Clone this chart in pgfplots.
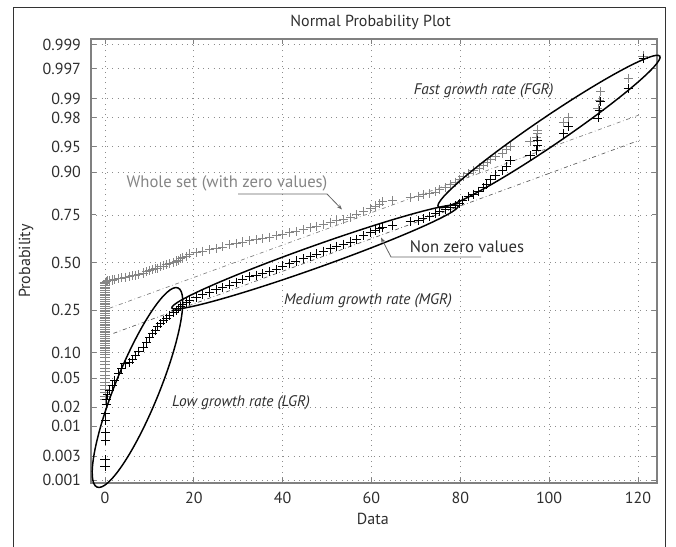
\documentclass[border=0pt]{standalone}
\usepackage{pgfplots}
\pgfplotsset{compat=1.18}
\usepackage{fontspec}
\setmainfont{PT Sans}
\usetikzlibrary{arrows.meta}

\definecolor{wholegray}{gray}{0.52}
\definecolor{boxgray}{gray}{0.5}
\definecolor{gridgray}{gray}{0.55}
\definecolor{txt}{gray}{0.18}
\definecolor{leader}{gray}{0.4}

\begin{document}
\begin{tikzpicture}[x=0.75pt,y=0.75pt]
% 1 unit = 1 px of the 676x547 reference, origin bottom left
\begin{axis}[
    at={(68.25pt,48pt)}, anchor=south west,
    scale only axis, width=424.5pt, height=333pt,
    xmin=-3.15, xmax=124.3,
    ymin=-3.13, ymax=3.17,
    xtick={0,20,...,120},
    % normal quantiles of the probabilities
    ytick={-3.0902,-2.7478,-2.3263,-2.0537,-1.6449,-1.2816,-0.6745,0,
           0.6745,1.2816,1.6449,2.0537,2.3263,2.7478,3.0902},
    yticklabels={0.001,0.003,0.01,0.02,0.05,0.10,0.25,0.50,
                 0.75,0.90,0.95,0.98,0.99,0.997,0.999},
    /pgf/number format/assume math mode=true,
    tick align=inside,
    major tick length=3.5pt,
    grid=major,
    grid style={gridgray, line width=0.5pt, dash pattern=on 0.6pt off 3.4pt},
    axis line style={boxgray, line width=0.8pt},
    tick style={boxgray, line width=0.6pt},
    tick label style={font=\fontsize{12}{14}\selectfont, text=txt},
    yticklabel style={xshift=-4pt},
    xticklabel style={yshift=-3pt},
    title={Normal Probability Plot},
    title style={at={(0.494,1.02)}, anchor=center, yshift=0pt, font=\fontsize{12}{14}\selectfont, text=txt},
    xlabel={Data},
    xlabel style={at={(0.498,-0.0811)}, anchor=center, font=\fontsize{12}{14}\selectfont, text=txt},
    ylabel={Probability},
    ylabel style={at={(-0.1148,0.5)}, anchor=center, font=\fontsize{12}{14}\selectfont, text=txt},
  ]
  % whole set, zero values
  \addplot[only marks, mark=+, mark size=3.4pt, wholegray, mark options={line width=0.6pt}]
    table {
      x y
      0 -1.95
      0 -1.90
      0 -1.85
      0 -1.80
      0 -1.75
      0 -1.70
      0 -1.65
      0 -1.60
      0 -1.55
      0 -1.50
      0 -1.45
      0 -1.40
      0 -1.35
      0 -1.30
      0 -1.275
      0 -1.25
      0 -1.225
      0 -1.20
      0 -1.175
      0 -1.15
      0 -1.125
      0 -1.10
      0 -1.075
      0 -1.05
      0 -1.025
      0 -1.00
      0 -0.975
      0 -0.95
      0 -0.925
      0 -0.90
      0 -0.875
      0 -0.85
      0 -0.825
      0 -0.80
      0 -0.775
      0 -0.75
      0 -0.725
      0 -0.70
      0 -0.675
      0 -0.65
      0 -0.625
      0 -0.60
      0 -0.575
      0 -0.55
      0 -0.525
      0 -0.50
      0 -0.475
      0 -0.45
      0 -0.425
      0 -0.40
      0 -0.375
      0 -0.35
      0 -0.325
      0 -0.30
    };
  % whole set, non zero values
  \addplot[only marks, mark=+, mark size=3.4pt, wholegray, mark options={line width=0.6pt}]
    table {
      x y
      0.0 -0.29
      0.1 -0.28
      0.2 -0.28
      0.3 -0.27
      0.4 -0.27
      0.6 -0.26
      1.0 -0.26
      1.6 -0.25
      2.2 -0.24
      3.0 -0.23
      3.8 -0.22
      4.5 -0.21
      5.5 -0.20
      6.2 -0.19
      6.8 -0.18
      7.6 -0.17
      8.6 -0.15
      9.3 -0.13
      10.1 -0.12
      10.7 -0.10
      11.3 -0.09
      11.9 -0.08
      12.4 -0.06
      13.2 -0.05
      13.9 -0.03
      14.6 -0.02
      15.4 0.00
      16.0 0.02
      16.5 0.03
      17.0 0.05
      17.5 0.07
      18.3 0.09
      19.1 0.12
      20.5 0.14
      22.0 0.16
      23.6 0.18
      25.0 0.20
      26.5 0.22
      28.1 0.25
      29.5 0.27
      31.0 0.29
      32.6 0.31
      34.0 0.32
      35.5 0.34
      37.1 0.36
      38.6 0.38
      40.0 0.40
      41.6 0.42
      43.0 0.44
      44.6 0.47
      46.2 0.49
      47.6 0.51
      49.2 0.54
      50.7 0.57
      52.2 0.59
      53.7 0.61
      55.2 0.64
      56.7 0.68
      58.2 0.72
      59.7 0.76
      60.8 0.80
      61.9 0.83
      62.5 0.86
      64.8 0.88
      68.7 0.92
      70.5 0.94
      71.6 0.96
      73.0 0.98
      74.5 1.00
      75.4 1.03
      76.6 1.06
      77.8 1.10
      78.8 1.14
      79.9 1.18
      80.6 1.22
      81.8 1.26
      83.0 1.30
      84.2 1.34
      85.2 1.38
      86.0 1.42
      86.7 1.46
      88.0 1.50
      89.5 1.55
      90.5 1.60
      91.2 1.65
      95.7 1.72
      97.2 1.77
      97.4 1.83
      97.4 1.88
      103.2 1.98
      104.3 2.06
      111.0 2.18
      111.4 2.30
      111.6 2.42
      117.8 2.61
      121.2 2.93
    };
  % reference lines
  \addplot[gray, line width=0.5pt, dash dot] coordinates {(1.0,-0.65) (120.2,2.09)};
  \addplot[black!65, line width=0.5pt, dash dot] coordinates {(1.9,-1.007) (120.4,1.735)};
  % non zero values
  \addplot[only marks, mark=+, mark size=3.4pt, black, mark options={line width=0.65pt}]
    table {
      x y
      0.0 -2.90
      0.0 -2.80
      0.1 -2.53
      0.1 -2.41
      0.2 -2.24
      0.2 -2.14
      0.3 -2.02
      0.4 -1.95
      0.6 -1.88
      1.0 -1.81
      1.6 -1.74
      2.2 -1.67
      3.0 -1.58
      3.8 -1.50
      4.5 -1.44
      5.5 -1.42
      6.2 -1.38
      6.8 -1.32
      7.6 -1.26
      8.6 -1.20
      9.3 -1.13
      10.1 -1.06
      10.7 -1.01
      11.3 -0.96
      11.9 -0.91
      12.4 -0.87
      13.2 -0.83
      13.9 -0.79
      14.6 -0.75
      15.4 -0.71
      16.0 -0.68
      16.5 -0.65
      17.0 -0.62
      17.5 -0.60
      18.3 -0.57
      19.1 -0.54
      20.5 -0.50
      22.0 -0.45
      23.6 -0.42
      25.0 -0.38
      26.5 -0.35
      28.1 -0.32
      29.5 -0.28
      31.0 -0.24
      32.6 -0.20
      34.0 -0.18
      35.5 -0.16
      37.1 -0.13
      38.6 -0.10
      40.0 -0.05
      41.6 -0.01
      43.0 0.02
      44.6 0.05
      46.2 0.08
      47.6 0.12
      49.2 0.16
      50.7 0.20
      52.2 0.23
      53.7 0.26
      55.2 0.29
      56.7 0.33
      58.2 0.38
      59.7 0.43
      60.8 0.46
      61.9 0.48
      62.5 0.50
      64.8 0.53
      68.7 0.58
      70.5 0.60
      71.6 0.62
      73.0 0.65
      74.5 0.69
      75.4 0.72
      76.6 0.75
      77.8 0.78
      78.8 0.81
      79.9 0.84
      80.6 0.88
      81.8 0.93
      83.0 0.97
      84.2 1.01
      85.2 1.06
      86.0 1.11
      86.7 1.18
      88.0 1.24
      89.5 1.30
      90.5 1.36
      91.2 1.44
      95.7 1.52
      97.2 1.59
      97.4 1.66
      97.4 1.73
      103.2 1.83
      104.3 1.93
      111.0 2.05
      111.4 2.15
      111.6 2.28
      117.8 2.47
      121.2 2.89
    };
\end{axis}

% group outlines
\draw[line width=1.1pt, rotate around={67.9:(137.5,159.5)}] (137.5,159.5) ellipse [x radius=107.5, y radius=22];
\draw[line width=1.1pt, rotate around={19.6:(315,290)}] (315,290) ellipse [x radius=152, y radius=11];
\draw[line width=1.1pt, rotate around={34.2:(549,415.5)}] (549,415.5) ellipse [x radius=134, y radius=14];

% annotations
\node[font=\fontsize{11.5}{13}\selectfont\itshape, text=txt] at (483.6,456) {Fast growth rate (FGR)};
\node[font=\fontsize{11.5}{13}\selectfont\itshape, text=txt] at (368,246.7) {Medium growth rate (MGR)};
\node[font=\fontsize{11.5}{13}\selectfont\itshape, text=txt] at (241,144.2) {Low growth rate (LGR)};
\node[font=\fontsize{12.5}{14}\selectfont, text=wholegray] at (227,363.7) {Whole set (with zero values)};
\node[font=\fontsize{12.5}{14}\selectfont, text=txt] at (467,300.5) {Non zero values};
\draw[leader, line width=0.6pt, -{Stealth[length=4pt,width=3pt]}] (238,353) -- (327,353) -- (342,337.5);
\draw[leader, line width=0.6pt, -{Stealth[length=4pt,width=3pt]}] (481,290) -- (391,290) -- (381,309.5);

% outer frame
\draw[black!80, line width=0.7pt] (13,0) -- (13,540) -- (665,540) -- (665,0);

\pgfresetboundingbox
\path[use as bounding box] (0,0) rectangle (676,547);
\end{tikzpicture}
\end{document}
